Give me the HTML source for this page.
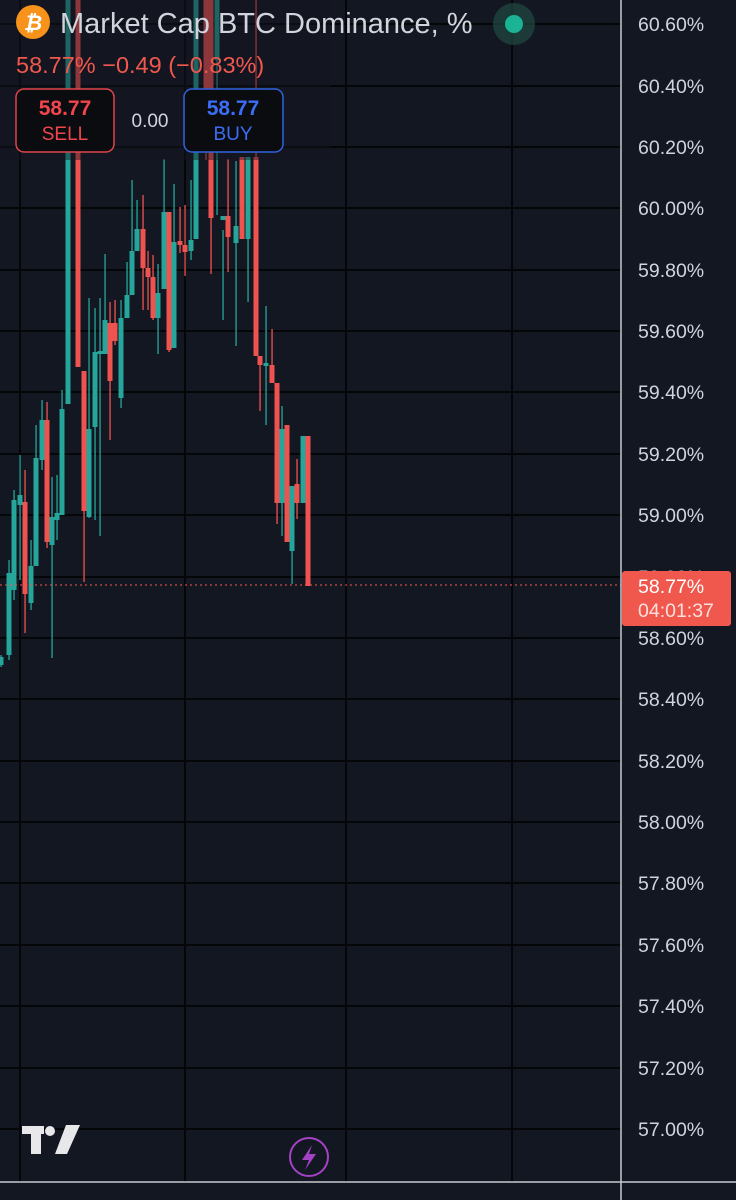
<!DOCTYPE html>
<html><head><meta charset="utf-8"><style>
html,body{margin:0;padding:0;background:#131722;}
body{width:736px;height:1200px;overflow:hidden;position:relative;font-family:"Liberation Sans",sans-serif;}
svg{position:absolute;left:0;top:0;}
</style></head><body>
<svg width="736" height="1200" viewBox="0 0 736 1200">
<rect width="736" height="1200" fill="#131722"/>
<g stroke="#050608" stroke-width="2">
<line x1="0" y1="24" x2="621" y2="24"/><line x1="0" y1="86" x2="621" y2="86"/><line x1="0" y1="147" x2="621" y2="147"/><line x1="0" y1="208" x2="621" y2="208"/><line x1="0" y1="270" x2="621" y2="270"/><line x1="0" y1="331" x2="621" y2="331"/><line x1="0" y1="392" x2="621" y2="392"/><line x1="0" y1="454" x2="621" y2="454"/><line x1="0" y1="515" x2="621" y2="515"/><line x1="0" y1="577" x2="621" y2="577"/><line x1="0" y1="638" x2="621" y2="638"/><line x1="0" y1="699" x2="621" y2="699"/><line x1="0" y1="761" x2="621" y2="761"/><line x1="0" y1="822" x2="621" y2="822"/><line x1="0" y1="883" x2="621" y2="883"/><line x1="0" y1="945" x2="621" y2="945"/><line x1="0" y1="1006" x2="621" y2="1006"/><line x1="0" y1="1068" x2="621" y2="1068"/><line x1="0" y1="1129" x2="621" y2="1129"/>
<line x1="20" y1="0" x2="20" y2="1182"/><line x1="185" y1="0" x2="185" y2="1182"/><line x1="346" y1="0" x2="346" y2="1182"/><line x1="512" y1="0" x2="512" y2="1182"/>
</g>
<g id="c"></g>
<line x1="0" y1="585" x2="621" y2="585" stroke="#f0584e" stroke-width="1" stroke-dasharray="2,3"/>
<line x1="621" y1="0" x2="621" y2="1200" stroke="#c8cad0" stroke-width="1.5"/>
<line x1="0" y1="1182" x2="736" y2="1182" stroke="#c8cad0" stroke-width="1.5"/>
<g fill="#d1d4dc" font-size="19.5" font-family="Liberation Sans, sans-serif">
<text x="638" y="31">60.60%</text><text x="638" y="93">60.40%</text><text x="638" y="154">60.20%</text><text x="638" y="215">60.00%</text><text x="638" y="277">59.80%</text><text x="638" y="338">59.60%</text><text x="638" y="399">59.40%</text><text x="638" y="461">59.20%</text><text x="638" y="522">59.00%</text><text x="638" y="584">58.80%</text><text x="638" y="645">58.60%</text><text x="638" y="706">58.40%</text><text x="638" y="768">58.20%</text><text x="638" y="829">58.00%</text><text x="638" y="890">57.80%</text><text x="638" y="952">57.60%</text><text x="638" y="1013">57.40%</text><text x="638" y="1075">57.20%</text><text x="638" y="1136">57.00%</text>
</g>
<rect x="622" y="571" width="109" height="55" rx="3" fill="#f0584e"/>
<text x="638" y="593" fill="#fff" font-size="19.5">58.77%</text>
<text x="638" y="617" fill="#fde0dd" font-size="19.5">04:01:37</text>
<rect x="0" y="0" width="330" height="160" fill="#131722" opacity="0.45"/>
<circle cx="33" cy="22" r="17" fill="#f7931a"/>
<text x="33" y="30" fill="#fff" font-size="21" font-weight="bold" text-anchor="middle" font-style="italic">₿</text>
<text x="60" y="33" fill="#d1d4dc" font-size="29">Market Cap BTC Dominance, %</text>
<circle cx="514" cy="24" r="21" fill="#1f4a42" opacity="0.7"/>
<circle cx="514" cy="24" r="9" fill="#1ab394"/>
<text x="16" y="73" fill="#f0584e" font-size="23.5">58.77%  −0.49 (−0.83%)</text>
<rect x="16" y="89" width="98" height="63" rx="8" fill="#0b0c10" stroke="#e0454b" stroke-width="1.5"/>
<text x="65" y="115" fill="#f0454d" font-size="21" font-weight="bold" text-anchor="middle">58.77</text>
<text x="65" y="140" fill="#f0454d" font-size="19" text-anchor="middle">SELL</text>
<text x="150" y="127" fill="#d1d4dc" font-size="19" text-anchor="middle">0.00</text>
<rect x="184" y="89" width="99" height="63" rx="8" fill="#0b0c10" stroke="#2f63e0" stroke-width="1.5"/>
<text x="233" y="115" fill="#3c6ef5" font-size="21" font-weight="bold" text-anchor="middle">58.77</text>
<text x="233" y="140" fill="#3c6ef5" font-size="19" text-anchor="middle">BUY</text>
<g fill="#e8e8ea"><rect x="22" y="1126" width="22" height="8"/><rect x="31" y="1126" width="10" height="28"/><circle cx="50" cy="1131" r="5"/><polygon points="66,1125 80,1125 67,1154 55,1154"/></g>
<circle cx="309" cy="1157" r="19" fill="none" stroke="#a442c5" stroke-width="2"/>
<polygon points="312,1145 302,1160 309,1160 305,1170 316,1154 309,1154" fill="#a442c5"/>
</svg>
<script>
var d=[
[1,655,667,657,665,'g'],[9,560,660,573,655,'g'],[14,490,600,500,590,'g'],[20,455,580,495,505,'g'],[25,470,633,502,594,'r'],[31,540,610,566,603,'g'],[36,425,566,458,566,'g'],[42,400,470,420,460,'g'],[47,402,548,420,542,'r'],[52,477,658,517,545,'g'],[57,475,540,513,520,'g'],[62,390,515,409,515,'g'],
[68,0,404,0,404,'g'],[78,0,367,0,367,'r'],[84,371,582,371,511,'r'],[89,298,518,429,517,'g'],[95,308,520,352,427,'g'],[100,298,536,351,354,'g'],[105,254,354,320,354,'g'],[110,302,440,323,381,'r'],[115,300,345,323,341,'r'],[121,300,408,318,398,'g'],[127,262,318,295,318,'g'],[132,180,295,251,295,'g'],[137,200,251,229,251,'g'],[143,195,310,229,268,'r'],[148,251,310,268,277,'r'],[153,255,320,277,318,'r'],[158,264,354,293,318,'g'],[164,159,289,212,289,'g'],[169,212,352,212,350,'r'],[174,184,348,242,348,'g'],[180,207,253,241,245,'r'],[185,205,276,245,252,'r'],[191,180,260,240,251,'g'],[196,0,239,0,239,'g'],[206,0,160,0,150,'r'],[211,0,274,0,218,'r'],[217,0,215,0,60,'g'],[223,230,320,216,220,'g'],[228,159,272,216,237,'r'],[236,161,346,226,243,'g'],[242,157,239,157,239,'r'],[248,157,302,157,239,'g'],[256,0,356,157,356,'r'],[260,356,411,356,365,'r'],[266,306,425,363,366,'g'],[272,329,383,365,383,'r'],[277,383,524,383,503,'r'],[282,406,536,429,503,'g'],[287,425,542,425,542,'r'],[292,486,584,486,551,'g'],[297,459,519,484,503,'r'],[303,436,503,436,503,'g'],[308,436,586,436,586,'r']];
var s='';d.forEach(function(c){var col=c[5]=='g'?'#26a69a':'#ef5350';
s+='<rect x="'+(c[0]-0.6)+'" y="'+c[1]+'" width="1.3" height="'+(c[2]-c[1])+'" fill="'+col+'"/>';
s+='<rect x="'+(c[0]-2.5)+'" y="'+c[3]+'" width="5" height="'+Math.max(2,c[4]-c[3])+'" fill="'+col+'"/>';});
document.getElementById('c').innerHTML=s;
</script>
</body></html>
